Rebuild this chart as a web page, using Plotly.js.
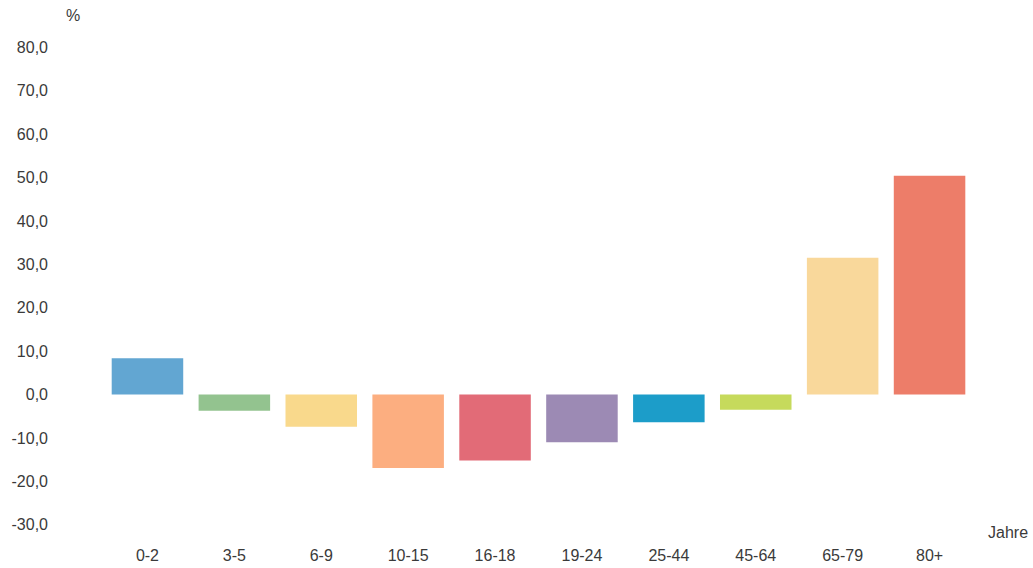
<!DOCTYPE html>
<html>
<head>
<meta charset="utf-8">
<script src="https://cdn.plot.ly/plotly-3.0.1.min.js"></script>
<style>
  html, body { margin: 0; padding: 0; background: #ffffff; }
  #chart { width: 1033px; height: 568px; }
</style>
</head>
<body>
<div id="chart"></div>
<script>
// Altersgruppen (Jahre)
const ageGroups = ['0-2', '3-5', '6-9', '10-15', '16-18', '19-24', '25-44', '45-64', '65-79', '80+'];

// Veränderung in %
const changePct = [8.4, -3.7, -7.4, -16.9, -15.2, -11.0, -6.4, -3.5, 31.5, 50.4];

// Farbe je Altersgruppe
const barColors = ['#62a6d2', '#93c38f', '#f9d98c', '#fcae80', '#e26b77',
                   '#9c8ab4', '#1c9dc9', '#c6da5c', '#f9d89b', '#ed7d69'];

// Achsenbeschriftung der y-Achse
const yTickVals = [-30, -20, -10, 0, 10, 20, 30, 40, 50, 60, 70, 80];
const yTickText = yTickVals.map(v => v.toFixed(1).replace('.', ','));

const textColor = '#3a3a3a';
const fontFamily = 'Liberation Sans, Arial, sans-serif';

const trace = {
  type: 'bar',
  x: ageGroups,
  y: changePct,
  marker: { color: barColors, line: { width: 0 } },
  hoverinfo: 'x+y'
};

const layout = {
  width: 1033,
  height: 568,
  margin: { l: 49, r: 60, t: 43, b: 28 },
  paper_bgcolor: '#ffffff',
  plot_bgcolor: '#ffffff',
  showlegend: false,
  bargap: 0.177,
  font: { family: fontFamily, size: 16, color: textColor },
  xaxis: {
    type: 'category',
    range: [-1.133, 9.5],
    showgrid: false,
    zeroline: false,
    showline: false,
    ticks: '',
    ticklabelstandoff: 4,
    tickfont: { family: fontFamily, size: 16, color: textColor },
    fixedrange: true
  },
  yaxis: {
    range: [-33.5, 81],
    tickmode: 'array',
    tickvals: yTickVals,
    ticktext: yTickText,
    showgrid: false,
    zeroline: false,
    showline: false,
    ticks: '',
    tickfont: { family: fontFamily, size: 16, color: textColor },
    fixedrange: true
  },
  annotations: [
    {
      text: '%',
      xref: 'paper', yref: 'paper',
      x: (73 - 49) / 924, y: 1 + (43 - 15) / 497,
      xanchor: 'center', yanchor: 'middle',
      showarrow: false,
      font: { family: fontFamily, size: 16, color: textColor }
    },
    {
      text: 'Jahre',
      xref: 'paper', yref: 'paper',
      x: (1030 - 49) / 924, y: (540 - 532) / 497,
      xanchor: 'right', yanchor: 'middle',
      showarrow: false,
      font: { family: fontFamily, size: 16, color: textColor }
    }
  ]
};

Plotly.newPlot('chart', [trace], layout, { staticPlot: true, displayModeBar: false });
</script>
</body>
</html>
